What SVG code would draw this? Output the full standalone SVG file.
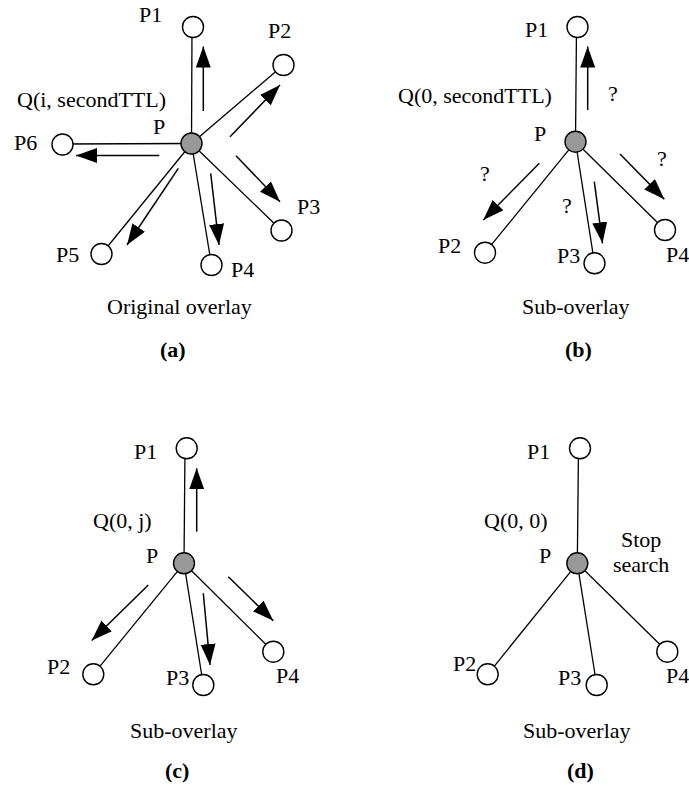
<svg xmlns="http://www.w3.org/2000/svg" width="689" height="796" viewBox="0 0 689 796">
<style>
text{font-family:"Liberation Serif","Times New Roman",serif;font-size:22px;fill:#000}
.cap{font-weight:bold}
.edge{stroke:#000;stroke-width:1.3;fill:none}
.arr{stroke:#000;stroke-width:1.5;fill:none;marker-end:url(#ah)}
.peer{fill:#fff;stroke:#000;stroke-width:1.4}
.src{fill:#999;stroke:#000;stroke-width:1.4}
</style>
<defs>
<marker id="ah" markerUnits="userSpaceOnUse" markerWidth="22" markerHeight="16" refX="21" refY="7.5" orient="auto" viewBox="0 0 22 16">
<path d="M0,0 L21,7.5 L0,15 z" fill="#000"/>
</marker>
</defs>
<rect width="689" height="796" fill="#fff"/>
<g id="connectors">
<line class="edge" x1="191.5" y1="143.5" x2="192" y2="27"/>
<line class="edge" x1="191.5" y1="143.5" x2="283.5" y2="65"/>
<line class="edge" x1="191.5" y1="143.5" x2="281.5" y2="230.5"/>
<line class="edge" x1="191.5" y1="143.5" x2="211.5" y2="265"/>
<line class="edge" x1="191.5" y1="143.5" x2="101.5" y2="254"/>
<line class="edge" x1="191.5" y1="143.5" x2="62.5" y2="144"/>
<line class="arr" x1="203.3" y1="111" x2="203.3" y2="46.5"/>
<line class="arr" x1="230" y1="136.7" x2="280" y2="85"/>
<line class="arr" x1="159.3" y1="155.5" x2="76" y2="155.5"/>
<line class="arr" x1="236" y1="155.7" x2="280" y2="201.7"/>
<line class="arr" x1="210.7" y1="173.3" x2="219" y2="245"/>
<line class="arr" x1="178.3" y1="168.3" x2="127" y2="245"/>
<line class="edge" x1="575.5" y1="141.7" x2="576.5" y2="27"/>
<line class="edge" x1="575.5" y1="141.7" x2="485" y2="252.7"/>
<line class="edge" x1="575.5" y1="141.7" x2="594.5" y2="263.3"/>
<line class="edge" x1="575.5" y1="141.7" x2="665" y2="230"/>
<line class="arr" x1="587.7" y1="110" x2="587.7" y2="46.5"/>
<line class="arr" x1="539.3" y1="163.3" x2="483.3" y2="220"/>
<line class="arr" x1="594.3" y1="181.7" x2="602.5" y2="243.3"/>
<line class="arr" x1="620" y1="154" x2="664.3" y2="199.3"/>
<line class="edge" x1="184" y1="563.3" x2="185" y2="448.3"/>
<line class="edge" x1="184" y1="563.3" x2="93.3" y2="674.3"/>
<line class="edge" x1="184" y1="563.3" x2="203.3" y2="685"/>
<line class="edge" x1="184" y1="563.3" x2="273.3" y2="651.7"/>
<line class="arr" x1="196.7" y1="531.7" x2="196.7" y2="468.3"/>
<line class="arr" x1="148.3" y1="585" x2="91.7" y2="640.5"/>
<line class="arr" x1="203.3" y1="593.3" x2="210" y2="665"/>
<line class="arr" x1="228.3" y1="576.7" x2="273.3" y2="620.7"/>
<line class="edge" x1="577.3" y1="563.3" x2="578.5" y2="448.3"/>
<line class="edge" x1="577.3" y1="563.3" x2="487.7" y2="674.3"/>
<line class="edge" x1="577.3" y1="563.3" x2="596.7" y2="685"/>
<line class="edge" x1="577.3" y1="563.3" x2="667.3" y2="651.7"/>
</g>
<g id="panel-a">
<g id="a-P"><circle class="src" cx="191.5" cy="143.5" r="10.5"/><text x="153" y="134">P</text></g>
<g id="a-P1"><circle class="peer" cx="193" cy="27" r="10.5"/><text x="139" y="22">P1</text></g>
<g id="a-P2"><circle class="peer" cx="283.5" cy="65" r="10.5"/><text x="268" y="38">P2</text></g>
<g id="a-P3"><circle class="peer" cx="281.5" cy="230.5" r="10.5"/><text x="297" y="213.5">P3</text></g>
<g id="a-P4"><circle class="peer" cx="211.5" cy="265" r="10.5"/><text x="231" y="277">P4</text></g>
<g id="a-P5"><circle class="peer" cx="101.5" cy="254" r="10.5"/><text x="56" y="262">P5</text></g>
<g id="a-P6"><circle class="peer" cx="62.5" cy="144.5" r="10.5"/><text x="14" y="150">P6</text></g>
<text x="17" y="106.5">Q(i, secondTTL)</text>
<text x="107" y="314">Original overlay</text>
<text class="cap" x="160" y="357">(a)</text>
</g>
<g id="panel-b">
<g id="b-P"><circle class="src" cx="575.5" cy="141.7" r="10.5"/><text x="534" y="141">P</text></g>
<g id="b-P1"><circle class="peer" cx="577.5" cy="27" r="10.5"/><text x="525" y="36.5">P1</text></g>
<g id="b-P2"><circle class="peer" cx="485" cy="252.7" r="10.5"/><text x="438" y="252.7">P2</text></g>
<g id="b-P3"><circle class="peer" cx="594.5" cy="263.3" r="10.5"/><text x="557" y="263.3">P3</text></g>
<g id="b-P4"><circle class="peer" cx="665" cy="230" r="10.5"/><text x="666" y="261.7">P4</text></g>
<text x="398" y="103">Q(0, secondTTL)</text>
<text x="608" y="101">?</text>
<text x="480" y="181">?</text>
<text x="562" y="213">?</text>
<text x="657" y="166">?</text>
<text x="522" y="314">Sub-overlay</text>
<text class="cap" x="565" y="357">(b)</text>
</g>
<g id="panel-c">
<g id="c-P"><circle class="src" cx="184" cy="563.3" r="10.5"/><text x="146" y="563">P</text></g>
<g id="c-P1"><circle class="peer" cx="186.7" cy="448.3" r="10.5"/><text x="134" y="459">P1</text></g>
<g id="c-P2"><circle class="peer" cx="93.3" cy="674.3" r="10.5"/><text x="47" y="674">P2</text></g>
<g id="c-P3"><circle class="peer" cx="203.3" cy="685" r="10.5"/><text x="166" y="685">P3</text></g>
<g id="c-P4"><circle class="peer" cx="273.3" cy="651.7" r="10.5"/><text x="276" y="683">P4</text></g>
<text x="93" y="527.7">Q(0, j)</text>
<text x="130" y="738">Sub-overlay</text>
<text class="cap" x="165" y="778">(c)</text>
</g>
<g id="panel-d">
<g id="d-P"><circle class="src" cx="577.3" cy="563.3" r="10.5"/><text x="539" y="563">P</text></g>
<g id="d-P1"><circle class="peer" cx="580" cy="448.3" r="10.5"/><text x="527" y="459">P1</text></g>
<g id="d-P2"><circle class="peer" cx="487.7" cy="674.3" r="10.5"/><text x="453" y="670.7">P2</text></g>
<g id="d-P3"><circle class="peer" cx="596.7" cy="685" r="10.5"/><text x="558" y="685">P3</text></g>
<g id="d-P4"><circle class="peer" cx="667.3" cy="651.7" r="10.5"/><text x="666" y="683">P4</text></g>
<text x="484" y="528">Q(0, 0)</text>
<text x="621" y="546.7">Stop</text>
<text x="613" y="572.3">search</text>
<text x="523" y="738">Sub-overlay</text>
<text class="cap" x="567" y="778">(d)</text>
</g>
</svg>
